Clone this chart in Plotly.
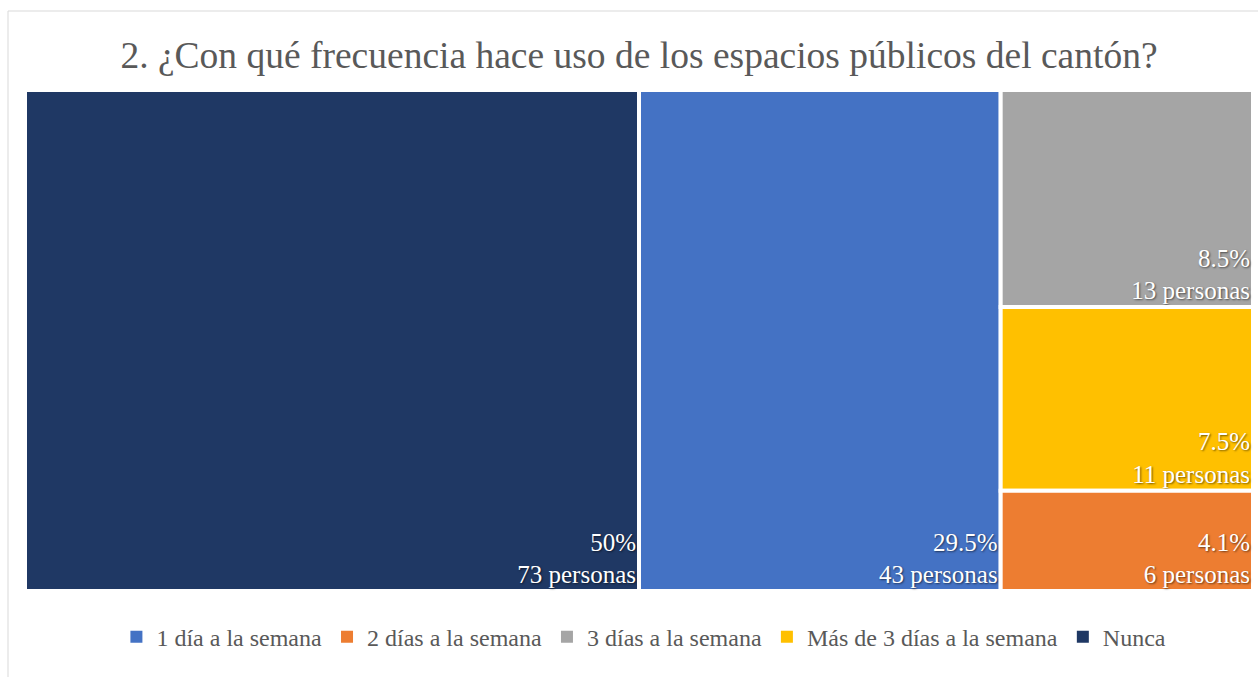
import plotly.graph_objects as go

categories = ["Nunca", "1 día a la semana", "3 días a la semana", "Más de 3 días a la semana", "2 días a la semana"]
personas = [73, 43, 13, 11, 6]
porcentajes = ["50%", "29.5%", "8.5%", "7.5%", "4.1%"]
colores = {"1 día a la semana": "#4472C4", "2 días a la semana": "#ED7D31",
           "3 días a la semana": "#A5A5A5", "Más de 3 días a la semana": "#FFC000",
           "Nunca": "#1F3864"}
legend_order = ["1 día a la semana", "2 días a la semana", "3 días a la semana",
                "Más de 3 días a la semana", "Nunca"]

font_fam = "Liberation Serif, Times New Roman, serif"

fig = go.Figure()
fig.add_trace(go.Treemap(
    labels=categories,
    parents=[""] * len(categories),
    values=personas,
    customdata=porcentajes,
    texttemplate="%{customdata}<br>%{value} personas",
    textposition="bottom right",
    textfont=dict(family=font_fam, size=25, color="white", shadow="1px 1px 2px rgba(0,0,0,0.55)"),
    marker=dict(colors=[colores[c] for c in categories], line=dict(color="white", width=4),
                pad=dict(t=0, l=0, r=0, b=0)),
    tiling=dict(packing="squarify", pad=0),
    pathbar=dict(visible=False),
    sort=True,
    hoverinfo="label+value",
    domain=dict(x=[0, 1], y=[0, 1]),
))

for c in legend_order:
    fig.add_trace(go.Scatter(
        x=[None], y=[None], mode="markers", name=c,
        marker=dict(symbol="square", size=13, color=colores[c]),
        hoverinfo="skip",
    ))

fig.update_layout(
    width=1258, height=677,
    margin=dict(l=25, r=5, t=90, b=86, autoexpand=False),
    paper_bgcolor="white", plot_bgcolor="white",
    xaxis=dict(visible=False), yaxis=dict(visible=False),
    title=dict(text="2. ¿Con qué frecuencia hace uso de los espacios públicos del cantón?",
               x=0.5, xref="paper", xanchor="center", y=1 - 55 / 677, yref="container",
               yanchor="middle", font=dict(family=font_fam, size=37.5, color="#595959")),
    legend=dict(orientation="h", x=0.504, xanchor="center", y=-0.092, yanchor="middle",
                font=dict(family=font_fam, size=24, color="#595959"),
                itemsizing="constant", tracegroupgap=0, itemwidth=30),
    shapes=[dict(type="rect", xref="paper", yref="paper",
                 x0=(8 - 25) / 1228, x1=(1262 - 25) / 1228,
                 y0=-(677 + 5 - 591) / 501, y1=(591 - 11) / 501,
                 line=dict(color="#D9D9D9", width=1), fillcolor="rgba(0,0,0,0)", layer="below")],
)

fig.write_html("out.html", config={"displayModeBar": False},
               post_script="document.body.style.margin='0';document.body.style.overflow='hidden';")
